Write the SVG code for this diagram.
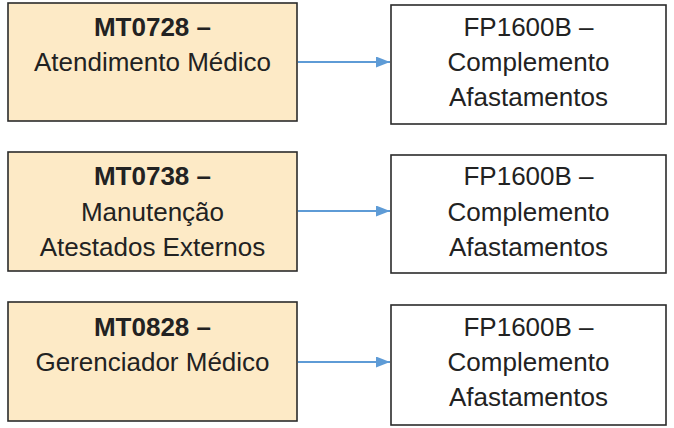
<svg xmlns="http://www.w3.org/2000/svg" width="674" height="428" viewBox="0 0 674 428">
<style>
.src{fill:#FDEAC6;stroke:#2b2b2b;stroke-width:1.6}
.dst{fill:#ffffff;stroke:#2b2b2b;stroke-width:1.6}
text{font-family:"Liberation Sans",Arial,sans-serif;font-size:26px;fill:#222;text-anchor:middle}
.b{font-weight:bold}
.conn{stroke:#5E9BD6;stroke-width:1.8;fill:none}
</style>
<defs>
<marker id="ah" viewBox="0 0 14 11" refX="14" refY="5.5" markerWidth="14" markerHeight="11" markerUnits="userSpaceOnUse" orient="auto">
<path d="M0,0 L14,5.5 L0,11 z" fill="#5E9BD6"/>
</marker>
</defs>
<rect width="674" height="428" fill="#ffffff"/>
<g id="connectors">
<line class="conn" x1="298" y1="62" x2="390" y2="62" marker-end="url(#ah)"/>
<line class="conn" x1="298" y1="211" x2="390" y2="211" marker-end="url(#ah)"/>
<line class="conn" x1="298" y1="362" x2="390" y2="362" marker-end="url(#ah)"/>
</g>
<g id="mt0728">
<rect class="src" x="8" y="3" width="289" height="118"/>
<text class="b" x="152.5" y="36">MT0728 –</text>
<text x="152.5" y="71">Atendimento Médico</text>
</g>
<g id="fp1600b-1">
<rect class="dst" x="391" y="5" width="275" height="119"/>
<text x="528.5" y="36">FP1600B –</text>
<text x="528.5" y="71">Complemento</text>
<text x="528.5" y="106">Afastamentos</text>
</g>
<g id="mt0738">
<rect class="src" x="8" y="152" width="289" height="119"/>
<text class="b" x="152.5" y="185">MT0738 –</text>
<text x="152.5" y="221">Manutenção</text>
<text x="152.5" y="256">Atestados Externos</text>
</g>
<g id="fp1600b-2">
<rect class="dst" x="391" y="155" width="275" height="118"/>
<text x="528.5" y="185">FP1600B –</text>
<text x="528.5" y="221">Complemento</text>
<text x="528.5" y="256">Afastamentos</text>
</g>
<g id="mt0828">
<rect class="src" x="8" y="302" width="289" height="119"/>
<text class="b" x="152.5" y="336">MT0828 –</text>
<text x="152.5" y="371">Gerenciador Médico</text>
</g>
<g id="fp1600b-3">
<rect class="dst" x="391" y="305" width="275" height="120"/>
<text x="528.5" y="336">FP1600B –</text>
<text x="528.5" y="371">Complemento</text>
<text x="528.5" y="406">Afastamentos</text>
</g>
</svg>
